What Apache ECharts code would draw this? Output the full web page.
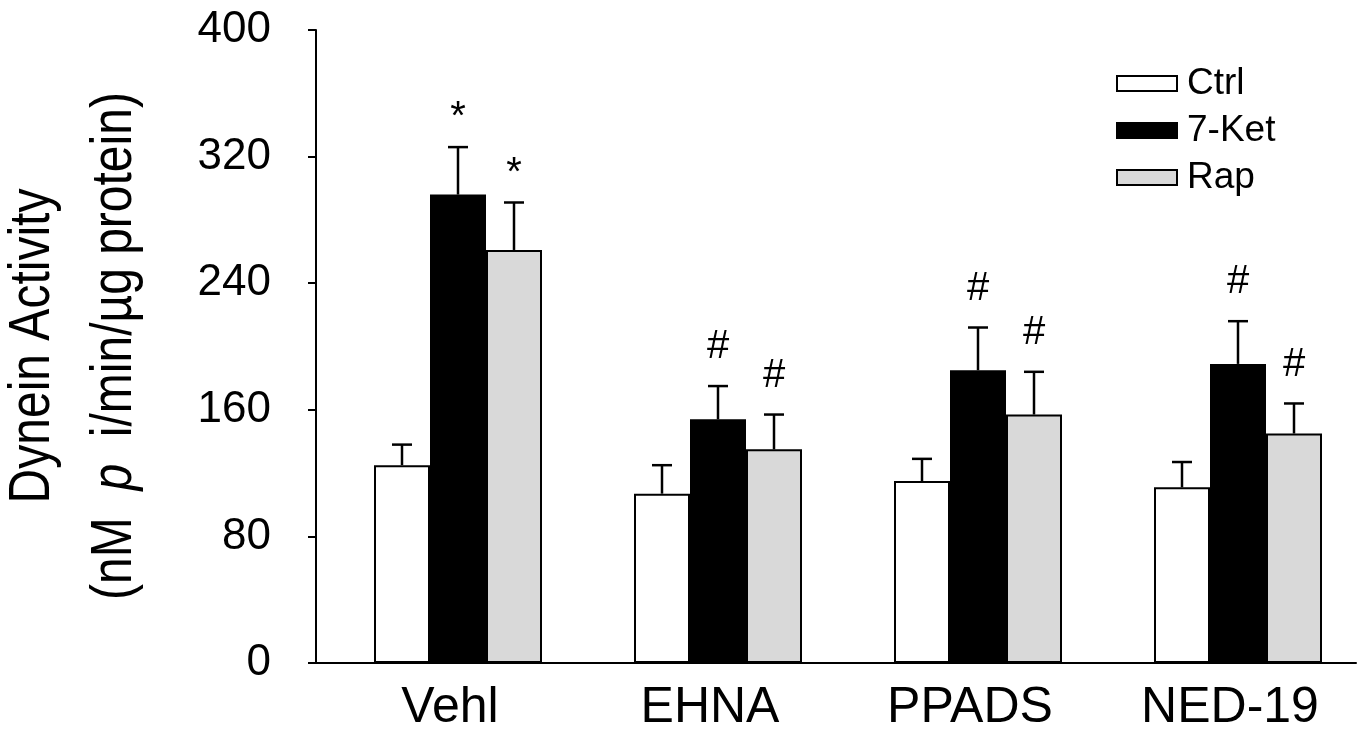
<!DOCTYPE html>
<html>
<head>
<meta charset="utf-8">
<script src="https://cdn.jsdelivr.net/npm/echarts@6/dist/echarts.min.js"></script>
<style>
html,body{margin:0;padding:0;background:#fff;}
#chart{width:1361px;height:734px;}
</style>
</head>
<body>
<div id="chart"></div>
<script>
// ---- data ----
const categories = ['Vehl', 'EHNA', 'PPADS', 'NED-19'];
const seriesNames = ['Ctrl', '7-Ket', 'Rap'];
const ctrlMean = [125, 107, 115, 111];
const ctrlSem  = [13, 18, 14, 16];
const ketMean  = [296, 154, 185, 189];
const ketSem   = [30, 21, 27, 27];
const rapMean  = [261, 135, 157, 145];
const rapSem   = [30, 22, 27, 19];
const ctrlSig  = ['', '', '', ''];
const ketSig   = ['*', '#', '#', '#'];
const rapSig   = ['*', '#', '#', '#'];
const yMin = 0, yMax = 400, yStep = 80;

// ---- styling / layout ----
const FONT = 'Liberation Sans, Arial, sans-serif';
const barW = 56, padW = 24;
const groupStart = -(padW + 3 * barW) / 2;
const offsets = [0, 1, 2].map(k => groupStart + padW + barW * k + barW / 2);
const fills = ['#ffffff', '#000000', '#d9d9d9'];

function barSeries(name, data, color) {
  return {
    type: 'bar', name: name, data: data, barWidth: barW, barGap: 0,
    itemStyle: { color: color, borderColor: '#000', borderWidth: 2 },
    z: 2, silent: true
  };
}

function errSeries(name, means, sems, sigs, offset) {
  return {
    type: 'custom', name: name + ' err', silent: true, z: 5,
    data: means.map((m, i) => [i, m, sems[i]]),
    encode: { x: 0, y: 1 },
    renderItem: function (params, api) {
      const i = api.value(0), m = api.value(1), s = api.value(2);
      const cx = api.coord([i, 0])[0] + offset;
      const y0 = api.coord([i, m])[1];
      const y1 = api.coord([i, m + s])[1];
      const sig = sigs[params.dataIndex];
      const children = [
        { type: 'line', shape: { x1: cx, y1: y0, x2: cx, y2: y1 }, style: { stroke: '#000', lineWidth: 2.5 } },
        { type: 'line', shape: { x1: cx - 10, y1: y1, x2: cx + 10, y2: y1 }, style: { stroke: '#000', lineWidth: 2.5 } }
      ];
      if (sig) {
        children.push({
          type: 'text',
          style: {
            text: sig, x: cx, y: y1 - (sig === '*' ? 29 : 39),
            align: 'center', verticalAlign: 'middle',
            fontSize: 40, fontFamily: FONT, fill: '#000'
          }
        });
      }
      return { type: 'group', children: children };
    }
  };
}

const chart = echarts.init(document.getElementById('chart'));
chart.setOption({
  animation: false,
  backgroundColor: '#fff',
  grid: { left: 316, right: 5, top: 30, bottom: 71, containLabel: false },
  legend: {
    data: seriesNames,
    icon: 'rect',
    orient: 'vertical', left: 1111, top: 60,
    itemWidth: 60, itemHeight: 15, itemGap: 10,
    textStyle: { fontSize: 37, fontFamily: FONT, color: '#000', padding: [0, 0, 0, 5] },
    selectedMode: false
  },
  xAxis: {
    type: 'category', data: categories,
    axisLine: { lineStyle: { color: '#000', width: 2 } },
    axisTick: { show: false },
    axisLabel: { fontSize: 50, fontFamily: FONT, color: '#000', margin: 20, padding: [0, 0, 0, 8] }
  },
  yAxis: {
    type: 'value', min: yMin, max: yMax, interval: yStep,
    axisLine: { show: true, lineStyle: { color: '#000', width: 2 } },
    axisTick: { show: true, length: 8, lineStyle: { color: '#000', width: 2 } },
    axisLabel: { fontSize: 44, fontFamily: FONT, color: '#000', margin: 45 },
    splitLine: { show: false }
  },
  graphic: [{
    type: 'text', x: 74, y: 346, rotation: Math.PI / 2, scaleY: 1.2,
    style: {
      text: 'Dynein Activity\n(nM  {i|p}  i/min/µg protein)',
      fontSize: 48, fontFamily: FONT, fill: '#000', lineHeight: 68,
      align: 'center', verticalAlign: 'middle',
      rich: { i: { fontStyle: 'italic', fontSize: 48, fontFamily: FONT, lineHeight: 68, fill: '#000' } }
    }
  }],
  series: [
    { type: 'bar', name: '_pad', data: [], barWidth: padW, barGap: 0, silent: true },
    barSeries('Ctrl', ctrlMean, fills[0]),
    barSeries('7-Ket', ketMean, fills[1]),
    barSeries('Rap', rapMean, fills[2]),
    errSeries('Ctrl', ctrlMean, ctrlSem, ctrlSig, offsets[0]),
    errSeries('7-Ket', ketMean, ketSem, ketSig, offsets[1]),
    errSeries('Rap', rapMean, rapSem, rapSig, offsets[2])
  ]
});
</script>
</body>
</html>
